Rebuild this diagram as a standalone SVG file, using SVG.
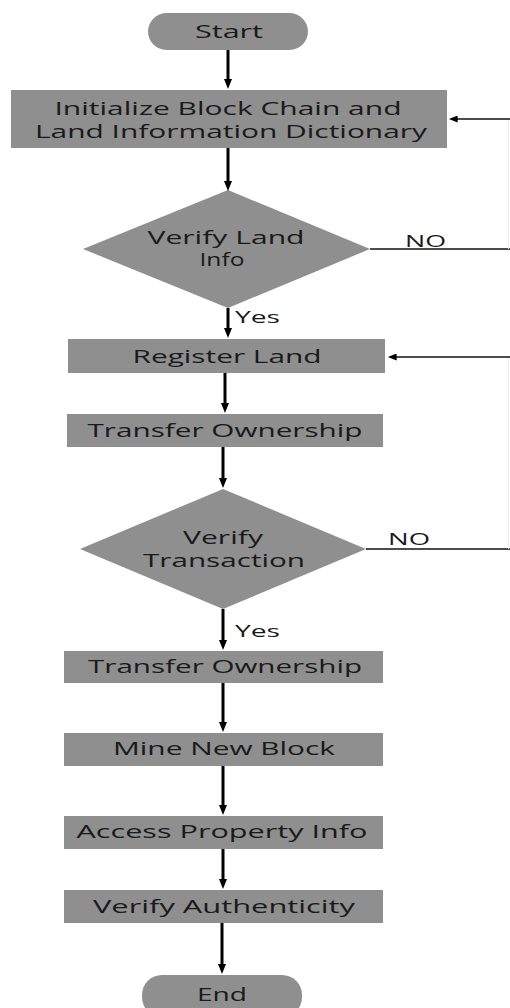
<svg xmlns="http://www.w3.org/2000/svg" width="510" height="1008" viewBox="0 0 510 1008">
<style>
.shape{fill:#8f8f8f;}
.t{font-family:"Open Sans","DejaVu Sans",sans-serif;font-size:18px;fill:#1a1a1a;text-anchor:middle;}
.lbl{font-family:"Open Sans","DejaVu Sans",sans-serif;font-size:16px;fill:#1a1a1a;}
.main{stroke:#000;stroke-width:3;fill:none;}
.thin{stroke:#111;stroke-width:1.5;fill:none;}
.faint{stroke:#ececec;stroke-width:1;fill:none;}
</style>
<defs>
<marker id="arr" viewBox="0 0 10 8" markerWidth="10" markerHeight="8" markerUnits="userSpaceOnUse" refX="3" refY="4" orient="auto">
<path d="M0,0 L10,4 L0,8 z" fill="#000"/>
</marker>
<marker id="arrs" viewBox="0 0 10 8" markerWidth="10" markerHeight="7" markerUnits="userSpaceOnUse" refX="3" refY="4" orient="auto">
<path d="M0,0 L10,4 L0,8 z" fill="#000"/>
</marker>
</defs>
<rect width="510" height="1008" fill="#fff"/>

<g id="start">
<rect class="shape" x="148" y="13" width="160" height="37" rx="18.5"/>
<text class="t" x="229" y="38" textLength="68" lengthAdjust="spacingAndGlyphs">Start</text>
</g>
<g id="init">
<rect class="shape" x="11" y="90" width="436" height="58"/>
<text class="t" x="228" y="115" textLength="347" lengthAdjust="spacingAndGlyphs">Initialize Block Chain and</text>
<text class="t" x="231" y="138" textLength="392" lengthAdjust="spacingAndGlyphs">Land Information Dictionary</text>
</g>
<g id="verify-land">
<polygon class="shape" points="228,190 370,249 228,308 83,249"/>
<text class="t" x="226" y="244" textLength="157" lengthAdjust="spacingAndGlyphs">Verify Land</text>
<text class="t" x="222" y="266" textLength="45" lengthAdjust="spacingAndGlyphs">Info</text>
</g>
<g id="register">
<rect class="shape" x="68" y="339" width="317" height="34"/>
<text class="t" x="227" y="363" textLength="189" lengthAdjust="spacingAndGlyphs">Register Land</text>
</g>
<g id="transfer1">
<rect class="shape" x="67" y="414" width="316" height="33"/>
<text class="t" x="225" y="437" textLength="275" lengthAdjust="spacingAndGlyphs">Transfer Ownership</text>
</g>
<g id="verify-tx">
<polygon class="shape" points="223,489 366,549 223,609 80,549"/>
<text class="t" x="223" y="544" textLength="80" lengthAdjust="spacingAndGlyphs">Verify</text>
<text class="t" x="224" y="567" textLength="162" lengthAdjust="spacingAndGlyphs">Transaction</text>
</g>
<g id="transfer2">
<rect class="shape" x="64" y="651" width="319" height="32"/>
<text class="t" x="225" y="673" textLength="274" lengthAdjust="spacingAndGlyphs">Transfer Ownership</text>
</g>
<g id="mine">
<rect class="shape" x="64" y="733" width="319" height="33"/>
<text class="t" x="224" y="755" textLength="222" lengthAdjust="spacingAndGlyphs">Mine New Block</text>
</g>
<g id="access">
<rect class="shape" x="64" y="816" width="319" height="33"/>
<text class="t" x="222" y="838" textLength="291" lengthAdjust="spacingAndGlyphs">Access Property Info</text>
</g>
<g id="authenticity">
<rect class="shape" x="64" y="890" width="319" height="33"/>
<text class="t" x="224" y="913" textLength="262" lengthAdjust="spacingAndGlyphs">Verify Authenticity</text>
</g>
<g id="end">
<rect class="shape" x="142" y="975" width="160" height="42" rx="20"/>
<text class="t" x="222" y="1001" textLength="50" lengthAdjust="spacingAndGlyphs">End</text>
</g>

<g id="connectors">
<line class="main" x1="228" y1="50" x2="228" y2="82" marker-end="url(#arr)"/>
<line class="main" x1="228" y1="148" x2="228" y2="184" marker-end="url(#arr)"/>
<line class="main" x1="228" y1="308" x2="228" y2="331" marker-end="url(#arr)"/>
<line class="main" x1="225" y1="373" x2="225" y2="406" marker-end="url(#arr)"/>
<line class="main" x1="223" y1="447" x2="223" y2="481" marker-end="url(#arr)"/>
<line class="main" x1="223" y1="609" x2="223" y2="643" marker-end="url(#arr)"/>
<line class="main" x1="223" y1="683" x2="223" y2="725" marker-end="url(#arr)"/>
<line class="main" x1="223" y1="766" x2="223" y2="808" marker-end="url(#arr)"/>
<line class="main" x1="223" y1="849" x2="223" y2="882" marker-end="url(#arr)"/>
<line class="main" x1="222" y1="923" x2="222" y2="967" stroke-width="2" marker-end="url(#arr)"/>

<line class="thin" x1="370" y1="249" x2="510" y2="249"/>
<line class="faint" x1="508.5" y1="249" x2="508.5" y2="119"/>
<line class="thin" x1="510" y1="119" x2="455" y2="119" marker-end="url(#arrs)"/>

<line class="thin" x1="366" y1="549" x2="510" y2="549"/>
<line class="faint" x1="508.5" y1="549" x2="508.5" y2="357"/>
<line class="thin" x1="510" y1="357" x2="394" y2="357" marker-end="url(#arrs)"/>

<text class="lbl" x="405" y="247" textLength="41" lengthAdjust="spacingAndGlyphs">NO</text>
<text class="lbl" x="235" y="323" textLength="45" lengthAdjust="spacingAndGlyphs">Yes</text>
<text class="lbl" x="388" y="545" textLength="42" lengthAdjust="spacingAndGlyphs">NO</text>
<text class="lbl" x="235" y="637" textLength="45" lengthAdjust="spacingAndGlyphs">Yes</text>
</g>
</svg>
